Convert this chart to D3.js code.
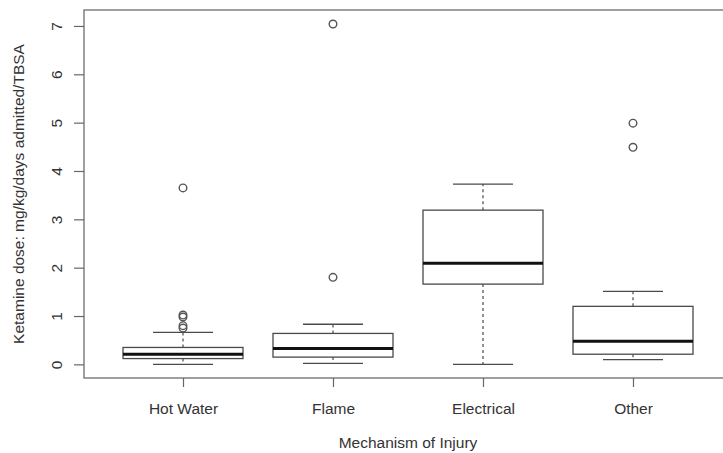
<!DOCTYPE html>
<html>
<head>
<meta charset="utf-8">
<script src="https://cdn.jsdelivr.net/npm/d3@7"></script>
<style>
  html, body { margin: 0; padding: 0; background: #fff; }
  svg { display: block; }
</style>
</head>
<body>
<div id="chart"></div>
<script>
/* Ketamine dose by mechanism of injury — R-style boxplot in D3 v7 */

const categories = ['Hot Water', 'Flame', 'Electrical', 'Other'];
const lowerWhisker = [0.00, 0.02, 0.00, 0.10];
const q1 = [0.12, 0.15, 1.66, 0.21];
const median = [0.21, 0.33, 2.09, 0.48];
const q3 = [0.35, 0.64, 3.19, 1.20];
const upperWhisker = [0.66, 0.83, 3.73, 1.51];
const outliers = [
  [0.75, 0.80, 0.98, 1.02, 3.65],
  [1.80, 7.04],
  [],
  [4.49, 4.99],
];
const yTicks = [0, 1, 2, 3, 4, 5, 6, 7];

const W = 723, H = 453;
const FONT = '"Liberation Sans", Arial, Helvetica, sans-serif';
const FS = 15.5;
const INK = '#333';
const LINE = '#4a4a4a';

const boxes = categories.map((name, i) => ({
  name, pos: i + 1,
  lo: lowerWhisker[i], q1: q1[i], med: median[i], q3: q3[i], hi: upperWhisker[i],
  out: outliers[i],
}));

const svg = d3.select('#chart').append('svg')
  .attr('width', W).attr('height', H)
  .style('font-family', FONT);

// R pads the data range by 4% on each side
const x = d3.scaleLinear().domain([0.34, 4.66]).range([84, 732]);
const y = d3.scaleLinear().domain([-0.282, 7.33]).range([378, 10]);

const boxW = x(1.8) - x(1);     // 0.8 units wide
const capW = boxW / 2;

// Frame
svg.append('rect')
  .attr('x', x(0.34)).attr('y', y(7.33))
  .attr('width', x(4.66) - x(0.34))
  .attr('height', y(-0.282) - y(7.33))
  .attr('fill', 'none')
  .attr('stroke', '#777')
  .attr('stroke-width', 1.4);

// Y axis
svg.append('g')
  .attr('transform', `translate(${x(0.34)},0)`)
  .call(d3.axisLeft(y).tickValues(yTicks).tickSize(10).tickFormat(d3.format('d')))
  .call(ax => ax.select('.domain').remove())
  .call(ax => ax.selectAll('line').attr('stroke', '#666').attr('stroke-width', 1.2))
  .call(ax => ax.selectAll('text')
    .attr('x', null).attr('dy', null)
    .attr('transform', 'translate(-22,0) rotate(-90)')
    .attr('text-anchor', 'middle')
    .attr('font-size', FS)
    .attr('font-family', FONT)
    .attr('fill', INK));

// X axis
svg.append('g')
  .attr('transform', `translate(0,${y(-0.282)})`)
  .call(d3.axisBottom(x).tickValues(boxes.map(b => b.pos)).tickSize(9)
    .tickFormat((d, i) => categories[i]))
  .call(ax => ax.select('.domain').remove())
  .call(ax => ax.selectAll('line').attr('stroke', '#666').attr('stroke-width', 1.2))
  .call(ax => ax.selectAll('text')
    .attr('y', 36).attr('dy', null)
    .attr('font-size', FS)
    .attr('font-family', FONT)
    .attr('fill', INK));

// Axis titles, centred on the plot region as R does
svg.append('text')
  .attr('x', (x(0.34) + x(4.66)) / 2).attr('y', 448)
  .attr('text-anchor', 'middle')
  .attr('font-size', FS).attr('fill', INK)
  .text('Mechanism of Injury');

svg.append('text')
  .attr('transform', `translate(24,${(y(7.33) + y(-0.282)) / 2}) rotate(-90)`)
  .attr('text-anchor', 'middle')
  .attr('font-size', FS).attr('fill', INK)
  .text('Ketamine dose: mg/kg/days admitted/TBSA');

const g = svg.append('g');

// Dashed whiskers
g.selectAll('.whisk-up').data(boxes).join('line')
  .attr('x1', d => x(d.pos)).attr('x2', d => x(d.pos))
  .attr('y1', d => y(d.q3)).attr('y2', d => y(d.hi))
  .attr('stroke', LINE).attr('stroke-width', 1.2).attr('stroke-dasharray', '3,3');
g.selectAll('.whisk-lo').data(boxes).join('line')
  .attr('x1', d => x(d.pos)).attr('x2', d => x(d.pos))
  .attr('y1', d => y(d.q1)).attr('y2', d => y(d.lo))
  .attr('stroke', LINE).attr('stroke-width', 1.2).attr('stroke-dasharray', '3,3');

// Caps
['hi', 'lo'].forEach(k => {
  g.selectAll(`.cap-${k}`).data(boxes).join('line')
    .attr('x1', d => x(d.pos) - capW / 2).attr('x2', d => x(d.pos) + capW / 2)
    .attr('y1', d => y(d[k])).attr('y2', d => y(d[k]))
    .attr('stroke', LINE).attr('stroke-width', 1.3);
});

// Boxes
g.selectAll('.box').data(boxes).join('rect')
  .attr('x', d => x(d.pos) - boxW / 2)
  .attr('y', d => y(d.q3))
  .attr('width', boxW)
  .attr('height', d => y(d.q1) - y(d.q3))
  .attr('fill', 'none')
  .attr('stroke', LINE).attr('stroke-width', 1.3);

// Medians
g.selectAll('.med').data(boxes).join('line')
  .attr('x1', d => x(d.pos) - boxW / 2).attr('x2', d => x(d.pos) + boxW / 2)
  .attr('y1', d => y(d.med)).attr('y2', d => y(d.med))
  .attr('stroke', '#111').attr('stroke-width', 3);

// Outliers
g.selectAll('.outlier')
  .data(boxes.flatMap(b => b.out.map(v => ({ pos: b.pos, v }))))
  .join('circle')
  .attr('cx', d => x(d.pos)).attr('cy', d => y(d.v))
  .attr('r', 3.8)
  .attr('fill', 'none')
  .attr('stroke', '#555').attr('stroke-width', 1.4);
</script>
</body>
</html>
